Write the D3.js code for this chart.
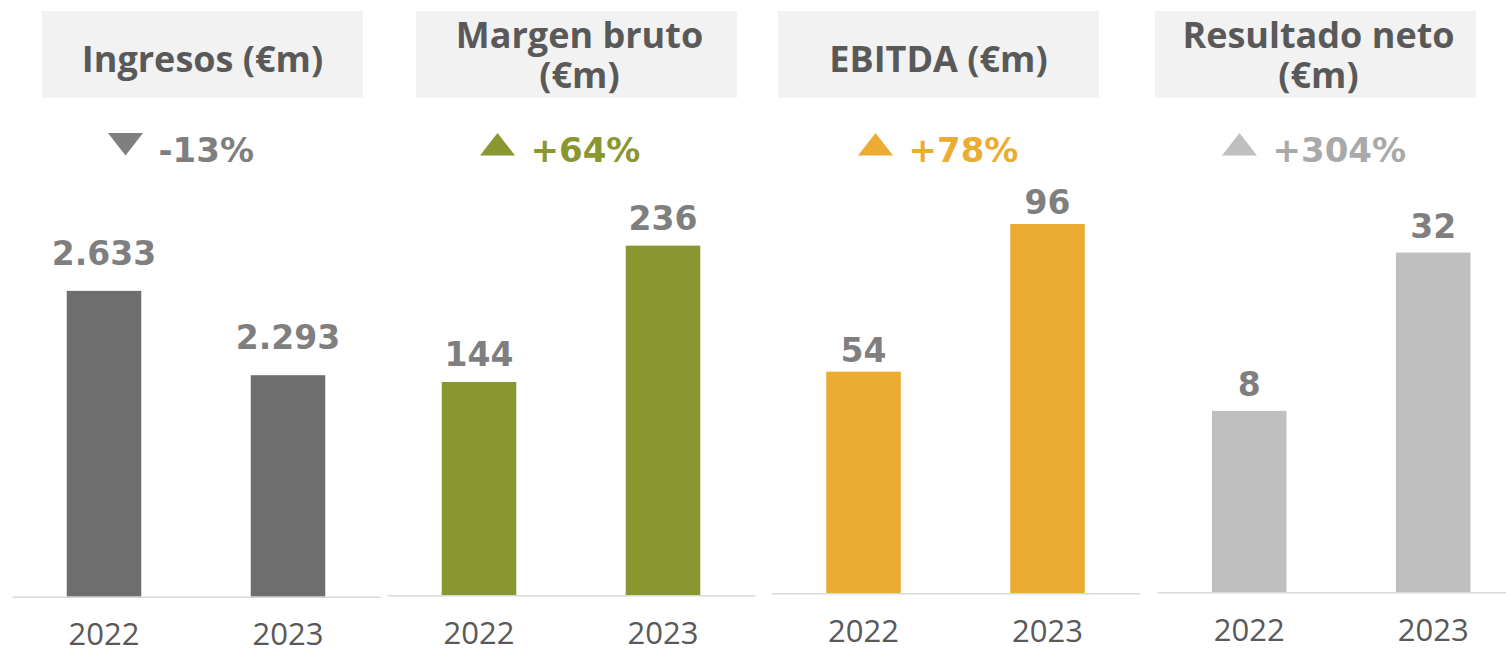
<!DOCTYPE html>
<html lang="es">

<head>
    <meta charset="UTF-8">
    <title>Resultados 2023</title>
    <script src="https://d3js.org/d3.v7.min.js"></script>
    <style>
        body { margin: 0; background: #fff; }
    </style>
</head>

<body>
    <script>
        // data
        var years = ["2022", "2023"];
        var titles = [["Ingresos (€m)"], ["Margen bruto", "(€m)"], ["EBITDA (€m)"], ["Resultado neto", "(€m)"]];
        var ingresos = [2633, 2293];
        var margenBruto = [144, 236];
        var ebitda = [54, 96];
        var resultadoNeto = [8, 32];
        var changeLabels = ["-13%", "+64%", "+78%", "+304%"];
        var changeDir = ["down", "up", "up", "up"];
        // value axis limits per panel (axes are hidden in the original)
        var axisMin = [1400, 0, -9, -19.5];
        var axisMax = [3080, 280.3, 108.5, 43];

        var series = [ingresos, margenBruto, ebitda, resultadoNeto];

        // layout
        var width = 1506, height = 649;
        var panelX = [12, 387, 771.5, 1157.2];
        var panelW = 368;
        var baseY = [596.7, 595.3, 593.3, 592.3];
        var topY = 180;
        var boxX = [42, 416, 778, 1155];
        var boxW = 321;
        var triX = [108, 480, 858, 1222];
        var labelGap = [26, 16, 10, 15];
        var barColors = ["#6e6e6e", "#8a9630", "#ecac32", "#bfbfbf"];
        var triColors = ["#7f7f7f", "#8a9630", "#ecac32", "#bfbfbf"];
        var changeColors = ["#7f7f7f", "#8a9630", "#ecac32", "#a9a9a9"];

        var es = d3.formatLocale({ decimal: ",", thousands: ".", grouping: [3], currency: ["", "€"] });
        var fmt = es.format(",d");

        var svg = d3.select("body")
            .append("svg")
            .attr("width", width)
            .attr("height", height);

        series.forEach(function (vals, i) {
            var g = svg.append("g");

            // title box
            g.append("rect")
                .attr("x", boxX[i])
                .attr("y", 11)
                .attr("width", boxW)
                .attr("height", 86.7)
                .attr("fill", "#f2f2f2");

            var lines = titles[i];
            var firstBase = lines.length == 1 ? 71.5 : 48;
            g.selectAll(".title")
                .data(lines)
                .enter()
                .append("text")
                .attr("x", boxX[i] + boxW / 2 + (lines.length == 1 ? 0 : 3))
                .attr("y", function (d, k) { return firstBase + k * 40; })
                .attr("text-anchor", "middle")
                .attr("font-family", "'Open Sans', sans-serif")
                .attr("font-weight", "bold")
                .attr("font-size", 36)
                .attr("fill", "#595959")
                .text(function (d) { return d; });

            // change indicator
            var tx = triX[i];
            var tri = changeDir[i] == "down"
                ? [[tx, 133], [tx + 35, 133], [tx + 17.5, 155.5]]
                : [[tx + 17.5, 133], [tx + 35, 155.5], [tx, 155.5]];
            g.append("path")
                .attr("d", d3.line()(tri) + "Z")
                .attr("fill", triColors[i]);
            g.append("text")
                .attr("x", tx + 50.5)
                .attr("y", 162)
                .attr("font-family", "'DejaVu Sans', sans-serif")
                .attr("font-weight", "bold")
                .attr("font-size", 34)
                .attr("fill", changeColors[i])
                .text(changeLabels[i]);

            // scales
            var x = d3.scaleBand()
                .domain(years)
                .range([panelX[i], panelX[i] + panelW])
                .paddingInner(0.595)
                .paddingOuter(0.2975);
            var y = d3.scaleLinear()
                .domain([axisMin[i], axisMax[i]])
                .range([baseY[i], topY]);

            g.selectAll(".bar")
                .data(vals)
                .enter()
                .append("rect")
                .attr("x", function (d, k) { return x(years[k]); })
                .attr("y", function (d) { return y(d); })
                .attr("width", x.bandwidth())
                .attr("height", function (d) { return y(axisMin[i]) - y(d); })
                .attr("fill", barColors[i]);

            g.selectAll(".val")
                .data(vals)
                .enter()
                .append("text")
                .attr("x", function (d, k) { return x(years[k]) + x.bandwidth() / 2; })
                .attr("y", function (d) { return y(d) - labelGap[i]; })
                .attr("text-anchor", "middle")
                .attr("font-family", "'DejaVu Sans', sans-serif")
                .attr("font-weight", "bold")
                .attr("font-size", 33)
                .attr("fill", "#7f7f7f")
                .text(function (d) { return fmt(d); });

            // baseline + year labels
            var axis = g.append("g")
                .attr("transform", "translate(0," + baseY[i] + ")")
                .call(d3.axisBottom(x).tickSize(0).tickPadding(0));
            axis.select(".domain")
                .attr("stroke", "#d9d9d9")
                .attr("stroke-width", 1.6);
            axis.selectAll(".tick text")
                .attr("dy", 0)
                .attr("y", 48.5)
                .attr("font-family", "'Open Sans', sans-serif")
                .attr("font-size", 31)
                .attr("fill", "#595959");
        });
    </script>
</body>

</html>
